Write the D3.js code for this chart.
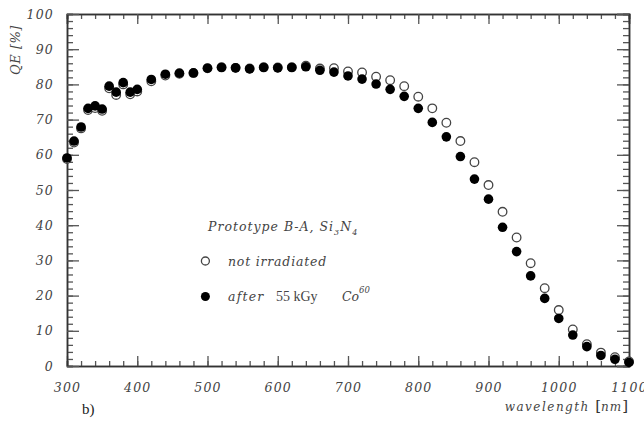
<!DOCTYPE html>
<html>
<head>
<meta charset="utf-8">
<script src="https://cdn.jsdelivr.net/npm/d3@7"></script>
<style>
  html, body { margin: 0; padding: 0; background: #fff; }
  svg { display: block; }
  .lab { font-family: "DejaVu Serif", serif; font-style: italic; fill: #444; }
</style>
</head>
<body>
<svg id="chart" width="644" height="426"></svg>
<script>
// ---- data ----
const wavelength = [300,310,320,330,340,350,360,370,380,390,400,420,440,460,480,500,520,540,560,580,600,620,640,660,680,700,720,740,760,780,800,820,840,860,880,900,920,940,960,980,1000,1020,1040,1060,1080,1100];
const notIrradiated = [58.8,63.5,67.5,72.7,73.3,72.5,78.9,77.0,80.0,77.2,78.0,80.9,82.5,83.0,83.2,84.6,84.9,84.7,84.5,84.9,84.8,84.9,85.3,84.5,84.6,83.7,83.4,82.2,81.2,79.5,76.5,73.2,69.1,63.9,57.9,51.4,43.8,36.5,29.2,22.1,15.9,10.4,6.2,3.8,2.5,1.3];
const afterIrradiation = [59.1,63.9,67.9,73.2,73.9,73.0,79.5,77.8,80.5,77.8,78.6,81.4,82.9,83.2,83.3,84.6,84.8,84.7,84.4,84.8,84.7,84.8,85.0,84.0,83.5,82.4,81.5,80.1,78.6,76.6,73.2,69.2,65.1,59.5,53.1,47.4,39.4,32.5,25.6,19.2,13.5,8.8,5.5,3.0,1.9,1.0];
const xTicks = [300,400,500,600,700,800,900,1000,1100];
const yTicks = [0,10,20,30,40,50,60,70,80,90,100];
const legendTitle = ["Prototype B-A, Si", "3", "N", "4"];
const legendLabels = ["not irradiated", "after", "55 kGy", "Co", "60"];
const xTitle = ["wavelength ", "[", "nm", "]"];
const yTitle = "QE [%]";
const panelLabel = "b)";

// ---- layout ----
const svg = d3.select("#chart");
const L = 67, R = 629, T = 14, B = 366;
const x = d3.scaleLinear().domain([300, 1100]).range([L, R]);
const y = d3.scaleLinear().domain([0, 100]).range([B, T]);
const fmt = d3.format("d");

const axisColor = "#333";
function styleAxis(g, hideText) {
  g.select(".domain").attr("stroke", axisColor).attr("stroke-width", 1.5);
  g.selectAll(".tick line").attr("stroke", "#555").attr("stroke-width", 1.3);
  if (hideText) g.selectAll(".tick text").remove();
}
const xMinor = d3.range(300, 1101, 20);
const yMinor = d3.range(0, 101, 2);

// bottom
svg.append("g").attr("transform", `translate(0,${B})`)
  .call(d3.axisBottom(x).tickValues(xMinor).tickSize(-5).tickFormat(""))
  .call(g => styleAxis(g, true));
svg.append("g").attr("transform", `translate(0,${B})`)
  .call(d3.axisBottom(x).tickValues(xTicks).tickSize(-10).tickSizeOuter(0).tickPadding(17).tickFormat(fmt))
  .call(g => styleAxis(g, false))
  .call(g => g.selectAll(".tick text").attr("class", "lab").attr("font-size", 12.5).attr("letter-spacing", 1.2).attr("font-family", null));
// top
svg.append("g").attr("transform", `translate(0,${T})`)
  .call(d3.axisTop(x).tickValues(xMinor).tickSize(-5).tickFormat(""))
  .call(g => styleAxis(g, true));
svg.append("g").attr("transform", `translate(0,${T})`)
  .call(d3.axisTop(x).tickValues(xTicks).tickSize(-10).tickFormat(""))
  .call(g => styleAxis(g, true));
// left
svg.append("g").attr("transform", `translate(${L},0)`)
  .call(d3.axisLeft(y).tickValues(yMinor).tickSize(-6).tickFormat(""))
  .call(g => styleAxis(g, true));
svg.append("g").attr("transform", `translate(${L},0)`)
  .call(d3.axisLeft(y).tickValues(yTicks).tickSize(-12).tickSizeOuter(0).tickPadding(13).tickFormat(fmt))
  .call(g => styleAxis(g, false))
  .call(g => g.selectAll(".tick text").attr("class", "lab").attr("font-size", 12.5).attr("letter-spacing", 1.2).attr("font-family", null));
// right
svg.append("g").attr("transform", `translate(${R},0)`)
  .call(d3.axisRight(y).tickValues(yMinor).tickSize(-6).tickFormat(""))
  .call(g => styleAxis(g, true));
svg.append("g").attr("transform", `translate(${R},0)`)
  .call(d3.axisRight(y).tickValues(yTicks).tickSize(-12).tickFormat(""))
  .call(g => styleAxis(g, true));

// ---- data points ----
const openPts = wavelength.map((w, i) => ({w, v: notIrradiated[i]}));
const fillPts = wavelength.map((w, i) => ({w, v: afterIrradiation[i]}));
svg.append("g").selectAll("circle").data(openPts).join("circle")
  .attr("cx", d => x(d.w)).attr("cy", d => y(d.v)).attr("r", 4.3)
  .attr("fill", "#fff").attr("stroke", "#444").attr("stroke-width", 1.3);
svg.append("g").selectAll("circle").data(fillPts).join("circle")
  .attr("cx", d => x(d.w)).attr("cy", d => y(d.v)).attr("r", 4.8)
  .attr("fill", "#000");

// ---- legend ----
const lt = svg.append("text").attr("class", "lab").attr("x", 208).attr("y", 231)
  .attr("font-size", 12.5).attr("letter-spacing", 1);
lt.append("tspan").text(legendTitle[0]);
lt.append("tspan").attr("dy", 4).attr("font-size", 8).text(legendTitle[1]);
lt.append("tspan").attr("dy", -4).text(legendTitle[2]);
lt.append("tspan").attr("dy", 4).attr("font-size", 8).text(legendTitle[3]);

svg.append("circle").attr("cx", x(497)).attr("cy", 261).attr("r", 4)
  .attr("fill", "#fff").attr("stroke", "#444").attr("stroke-width", 1.3);
svg.append("text").attr("class", "lab").attr("x", 228).attr("y", 265.5)
  .attr("font-size", 12.5).attr("letter-spacing", 0.8).text(legendLabels[0]);

svg.append("circle").attr("cx", x(497)).attr("cy", 296.5).attr("r", 4.5).attr("fill", "#000");
const l2 = svg.append("text").attr("x", 228).attr("y", 301).attr("font-size", 12.5).attr("fill", "#444");
l2.append("tspan").attr("class", "lab").attr("letter-spacing", 1.2).text(legendLabels[1]);
l2.append("tspan").attr("x", 276).attr("font-family", "Liberation Serif, serif").attr("font-size", 14).text(legendLabels[2]);
l2.append("tspan").attr("class", "lab").attr("x", 342).text(legendLabels[3]);
l2.append("tspan").attr("class", "lab").attr("dy", -8).attr("font-size", 8.5).text(legendLabels[4]);

// ---- titles ----
svg.append("text").attr("class", "lab")
  .attr("transform", `translate(20,${50}) rotate(-90)`)
  .attr("text-anchor", "middle").attr("font-size", 13).attr("letter-spacing", 0.5).text(yTitle);

const xt = svg.append("text").attr("x", 628).attr("y", 411).attr("text-anchor", "end")
  .attr("font-size", 12).attr("fill", "#333");
xt.append("tspan").attr("class", "lab").attr("letter-spacing", 1.5).text(xTitle[0]);
xt.append("tspan").attr("font-family", "DejaVu Serif, serif").attr("font-size", 15).text(xTitle[1]);
xt.append("tspan").attr("class", "lab").attr("letter-spacing", 1).text(xTitle[2]);
xt.append("tspan").attr("font-family", "DejaVu Serif, serif").attr("font-size", 15).text(xTitle[3]);

svg.append("text").attr("x", 82).attr("y", 414).attr("font-family", "Liberation Serif, serif")
  .attr("font-size", 15).attr("fill", "#222").text(panelLabel);
</script>
</body>
</html>
